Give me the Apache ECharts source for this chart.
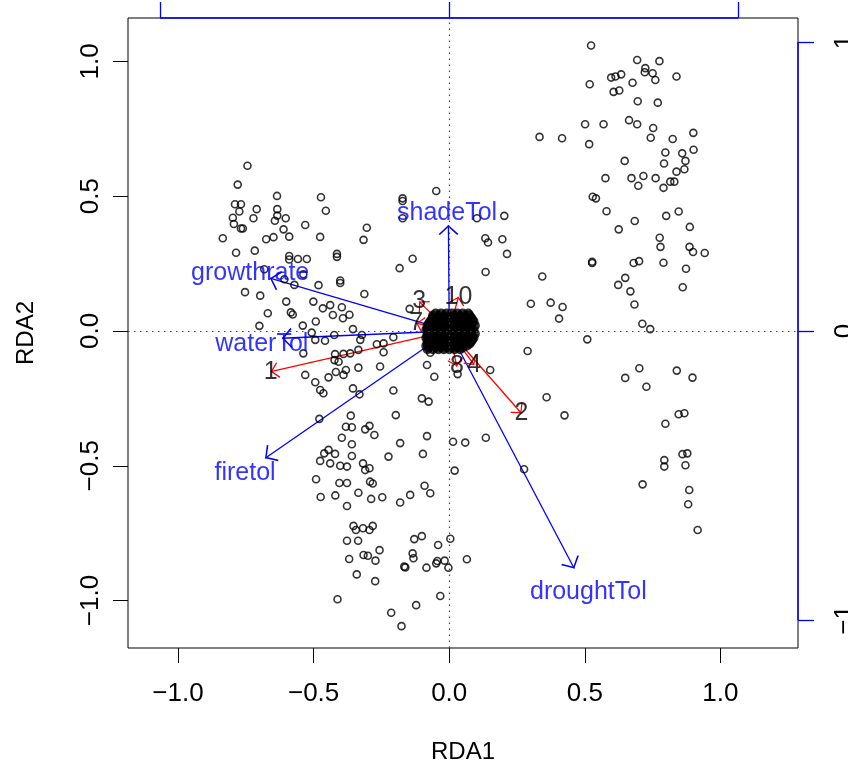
<!DOCTYPE html>
<html><head><meta charset="utf-8">
<script src="https://cdn.jsdelivr.net/npm/echarts@6/dist/echarts.min.js"></script>
<style>html,body{margin:0;padding:0;background:#fff}#c{width:848px;height:769px}</style>
</head><body><div id="c"></div><script>
// ---- axis ticks ----
const xTicks = [-1.0, -0.5, 0.0, 0.5, 1.0];
const yTicks = [-1.0, -0.5, 0.0, 0.5, 1.0];
const topTicks = [-1, 0, 1];
const rightTicks = [-1, 0, 1];

// ---- site scores (RDA1, RDA2) ----
const sites = [
[0.523,1.059],[0.693,1.005],[0.775,1.001],[0.723,0.975],[0.721,0.960],[0.750,0.956],[0.760,0.931],[0.597,0.940],
[0.613,0.944],[0.634,0.952],[0.518,0.915],[0.676,0.921],[0.838,0.944],[0.606,0.887],[0.627,0.892],[0.695,0.852],
[0.769,0.847],[0.501,0.767],[0.569,0.767],[0.663,0.782],[0.693,0.767],[0.752,0.753],[0.743,0.717],[0.824,0.712],
[0.900,0.735],[0.333,0.720],[0.416,0.715],[0.516,0.693],[0.647,0.631],[0.797,0.662],[0.859,0.659],[0.901,0.672],
[0.792,0.621],[0.871,0.631],[0.838,0.591],[0.867,0.600],[0.576,0.567],[0.672,0.567],[0.716,0.575],[0.697,0.539],
[0.761,0.567],[0.815,0.554],[0.830,0.554],[0.790,0.531],[0.529,0.498],[0.541,0.492],[0.580,0.444],[0.684,0.408],
[0.625,0.377],[0.800,0.427],[0.846,0.443],[0.887,0.386],[0.776,0.346],[0.779,0.312],[0.886,0.312],[0.899,0.293],
[0.942,0.289],[0.527,0.257],[0.527,0.252],[0.680,0.252],[0.700,0.259],[0.790,0.253],[0.873,0.231],[0.343,0.202],
[0.649,0.197],[0.623,0.171],[0.668,0.147],[0.861,0.162],[0.301,0.101],[0.374,0.105],[0.418,0.089],[0.405,0.046],
[0.683,0.098],[0.712,0.027],[0.741,0.007],[0.509,-0.031],[0.289,-0.074],[0.151,-0.145],[0.701,-0.138],[0.649,-0.174],
[0.727,-0.207],[0.839,-0.147],[0.897,-0.173],[0.359,-0.246],[0.425,-0.313],[0.846,-0.309],[0.867,-0.305],[0.797,-0.344],
[0.860,-0.457],[0.878,-0.454],[0.793,-0.479],[0.793,-0.503],[0.871,-0.498],[0.276,-0.513],[0.713,-0.569],[0.885,-0.590],
[0.881,-0.643],[0.916,-0.738],
[-0.048,0.519],[-0.172,0.492],[-0.172,0.482],[-0.172,0.418],[0.102,0.418],[0.203,0.427],[0.133,0.344],[0.143,0.328],
[0.196,0.340],[0.213,0.286],[-0.135,0.268],[-0.183,0.233],[0.134,0.219],[-0.146,0.082],[-0.206,-0.023],[-0.242,-0.046],
[-0.242,-0.079],[-0.070,-0.081],[-0.082,-0.126],[0.031,-0.160],[-0.255,-0.132],[-0.055,-0.170],
[-0.744,0.613],[-0.780,0.543],[-0.790,0.470],[-0.768,0.470],[-0.774,0.443],[-0.798,0.420],[-0.794,0.397],[-0.768,0.380],
[-0.761,0.380],[-0.722,0.418],[-0.710,0.452],[-0.635,0.501],[-0.634,0.452],[-0.634,0.428],[-0.643,0.409],[-0.603,0.418],
[-0.611,0.377],[-0.590,0.350],[-0.648,0.348],[-0.675,0.340],[-0.835,0.344],[-0.786,0.290],[-0.717,0.298],[-0.531,0.393],
[-0.473,0.496],[-0.455,0.446],[-0.476,0.349],[-0.304,0.383],[-0.316,0.338],[-0.590,0.278],[-0.590,0.265],[-0.558,0.267],
[-0.525,0.267],[-0.414,0.286],[-0.414,0.275],[-0.682,0.229],[-0.538,0.210],[-0.402,0.187],[-0.402,0.178],[-0.608,0.192],
[-0.571,0.171],[-0.482,0.170],[-0.313,0.137],[-0.753,0.144],[-0.697,0.131],[-0.601,0.109],[-0.669,0.066],[-0.584,0.069],
[-0.577,0.061],[-0.501,0.109],[-0.466,0.084],[-0.439,0.096],[-0.396,0.088],[-0.429,0.059],[-0.392,0.047],[-0.368,0.060],
[-0.492,0.035],[-0.540,0.020],[-0.700,0.019],[-0.355,0.007],[-0.507,-0.006],[-0.322,-0.015],[-0.267,-0.049],[-0.494,-0.033],
[-0.458,-0.036],[-0.424,-0.015],[-0.328,-0.033],
[-0.538,-0.083],[-0.421,-0.086],[-0.390,-0.085],[-0.365,-0.083],[-0.408,-0.114],[-0.423,-0.108],[-0.335,-0.070],[-0.445,-0.172],
[-0.418,-0.152],[-0.381,-0.145],[-0.390,-0.163],[-0.335,-0.136],[-0.531,-0.163],[-0.494,-0.190],[-0.476,-0.219],[-0.464,-0.231],
[-0.355,-0.213],[-0.331,-0.235],[-0.206,-0.221],[-0.197,-0.312],[-0.479,-0.326],[-0.363,-0.314],[-0.381,-0.355],[-0.359,-0.357],
[-0.294,-0.352],[-0.310,-0.365],[-0.276,-0.386],[-0.396,-0.396],[-0.359,-0.420],[-0.359,-0.464],[-0.461,-0.454],[-0.445,-0.441],
[-0.421,-0.456],[-0.476,-0.482],[-0.439,-0.491],[-0.402,-0.500],[-0.377,-0.503],[-0.224,-0.466],[-0.318,-0.491],[-0.310,-0.516],
[-0.294,-0.509],[-0.181,-0.416],[-0.491,-0.550],[-0.405,-0.564],[-0.377,-0.564],[-0.292,-0.559],[-0.282,-0.566],[-0.474,-0.616],
[-0.420,-0.610],[-0.335,-0.600],
[-0.377,-0.649],[-0.288,-0.623],[-0.247,-0.617],[-0.181,-0.636],[-0.144,-0.608],[-0.091,-0.574],[-0.070,-0.602],[0.020,-0.518],
[-0.353,-0.723],[-0.344,-0.738],[-0.318,-0.732],[-0.294,-0.738],[-0.282,-0.723],[-0.377,-0.778],[-0.336,-0.778],[-0.129,-0.772],
[-0.101,-0.761],[-0.041,-0.794],[0.004,-0.771],[-0.257,-0.813],[-0.369,-0.846],[-0.316,-0.831],[-0.300,-0.834],[-0.272,-0.852],
[-0.135,-0.825],[-0.132,-0.843],[-0.166,-0.874],[-0.162,-0.877],[-0.084,-0.878],[-0.048,-0.862],[-0.044,-0.853],[-0.017,-0.852],
[-0.003,-0.878],[0.065,-0.847],[-0.341,-0.903],[-0.273,-0.928],[-0.412,-0.995],[-0.214,-1.045],[-0.122,-1.017],[-0.033,-0.983],
[-0.176,-1.095],
[-0.101,-0.250],[-0.076,-0.262],[-0.082,-0.390],[0.014,-0.411],[0.059,-0.414],[0.135,-0.396],[-0.097,-0.456]
];

// ---- dense cloud of sites near the origin ----
const blob = [
[-0.05,0.065],[-0.03,0.065],[-0.01,0.065],[0.01,0.065],[0.03,0.065],[0.05,0.065],[0.07,0.065],
[-0.06,0.0575],[-0.04,0.0575],[-0.02,0.0575],[0.00,0.0575],[0.02,0.0575],[0.04,0.0575],[0.06,0.0575],[0.075,0.0575],
[-0.06,0.05],[-0.04,0.05],[-0.02,0.05],[0.00,0.05],[0.02,0.05],[0.04,0.05],[0.06,0.05],[0.08,0.05],
[-0.065,0.0425],[-0.05,0.0425],[-0.03,0.0425],[-0.01,0.0425],[0.01,0.0425],[0.03,0.0425],[0.05,0.0425],[0.07,0.0425],[0.085,0.0425],
[-0.07,0.035],[-0.05,0.035],[-0.03,0.035],[-0.01,0.035],[0.01,0.035],[0.03,0.035],[0.05,0.035],[0.07,0.035],[0.09,0.035],
[-0.075,0.0275],[-0.05,0.0275],[-0.03,0.0275],[-0.01,0.0275],[0.01,0.0275],[0.03,0.0275],[0.05,0.0275],[0.07,0.0275],[0.085,0.0275],
[-0.08,0.02],[-0.06,0.02],[-0.04,0.02],[-0.02,0.02],[0.00,0.02],[0.02,0.02],[0.04,0.02],[0.06,0.02],[0.08,0.02],[0.095,0.02],
[-0.08,0.0125],[-0.06,0.0125],[-0.04,0.0125],[-0.02,0.0125],[0.00,0.0125],[0.02,0.0125],[0.04,0.0125],[0.06,0.0125],[0.08,0.0125],
[-0.085,0.005],[-0.07,0.005],[-0.05,0.005],[-0.03,0.005],[-0.01,0.005],[0.01,0.005],[0.03,0.005],[0.05,0.005],[0.07,0.005],[0.09,0.005],
[-0.08,-0.0025],[-0.06,-0.0025],[-0.04,-0.0025],[-0.02,-0.0025],[0.00,-0.0025],[0.02,-0.0025],[0.04,-0.0025],[0.06,-0.0025],[0.08,-0.0025],
[-0.08,-0.01],[-0.06,-0.01],[-0.04,-0.01],[-0.02,-0.01],[0.00,-0.01],[0.02,-0.01],[0.04,-0.01],[0.06,-0.01],[0.08,-0.01],[0.095,-0.01],
[-0.08,-0.0175],[-0.05,-0.0175],[-0.03,-0.0175],[-0.01,-0.0175],[0.01,-0.0175],[0.03,-0.0175],[0.05,-0.0175],[0.07,-0.0175],[0.085,-0.0175],
[-0.085,-0.025],[-0.07,-0.025],[-0.05,-0.025],[-0.03,-0.025],[-0.01,-0.025],[0.01,-0.025],[0.03,-0.025],[0.05,-0.025],[0.07,-0.025],[0.09,-0.025],
[-0.08,-0.0325],[-0.05,-0.0325],[-0.03,-0.0325],[-0.01,-0.0325],[0.01,-0.0325],[0.03,-0.0325],[0.05,-0.0325],[0.07,-0.0325],[0.085,-0.0325],
[-0.08,-0.04],[-0.06,-0.04],[-0.04,-0.04],[-0.02,-0.04],[0.00,-0.04],[0.02,-0.04],[0.04,-0.04],[0.06,-0.04],[0.08,-0.04],
[-0.08,-0.0475],[-0.06,-0.0475],[-0.04,-0.0475],[-0.02,-0.0475],[0.00,-0.0475],[0.02,-0.0475],[0.04,-0.0475],[0.06,-0.0475],[0.075,-0.0475],
[-0.085,-0.055],[-0.07,-0.055],[-0.05,-0.055],[-0.03,-0.055],[-0.01,-0.055],[0.01,-0.055],[0.03,-0.055],[0.05,-0.055],[0.065,-0.055],
[-0.075,-0.0615],[-0.05,-0.0615],[-0.03,-0.0615],[-0.01,-0.0615],[0.01,-0.0615],[0.03,-0.0615],[0.05,-0.0615],
[-0.08,-0.068],[-0.06,-0.068],[-0.04,-0.068],[-0.02,-0.068],[0.00,-0.068],[0.02,-0.068],[0.04,-0.068]
];

// ---- biplot arrows (continuous traits) ----
const bipNames = ['shadeTol', 'growthrate', 'waterTol', 'firetol', 'droughtTol'];
const bipX = [-0.003, -0.661, -0.617, -0.679, 0.461];
const bipY = [0.393, 0.196, -0.027, -0.472, -0.881];
const bipLabelX = [-0.008, -0.734, -0.691, -0.753, 0.513];
const bipLabelY = [0.437, 0.216, -0.049, -0.528, -0.968];

// ---- factor level centroids ----
const cenNames = ['1', '2', '3', '4', '7', '8', '10', '5', '6', '9'];
const cenX = [-0.658, 0.266, -0.111, 0.092, -0.122, 0.028, 0.034, 0.020, -0.030, 0.050];
const cenY = [-0.151, -0.305, 0.109, -0.126, 0.029, -0.132, 0.127, 0.020, -0.020, -0.030];

// ---- plot ranges ----
const xMin = -1.1845, xMax = 1.286, yMin = -1.176, yMax = 1.161;
const topScale = 1.0664, rightScale = 1.072;

const FONT = 'Liberation Sans, Arial, Helvetica, sans-serif';
const BLUE = '#0000ff';
const fmt1 = v => (v < 0 ? '\u2212' : '') + Math.abs(v).toFixed(1);
const fmt0 = v => (v < 0 ? '\u2212' : '') + Math.abs(v);
const chevron = 'path://M0,-13.3M0,0L10,12L8.6,13.3L0,2.6L-8.6,13.3L-10,12Z';

const chart = echarts.init(document.getElementById('c'), null, {renderer: 'canvas'});
const circleStyle = {color: 'rgba(0,0,0,0)', borderColor: '#000', borderWidth: 1.6};
const blobStyle = {color: 'rgba(0,0,0,0)', borderColor: '#000', borderWidth: 2.8};

chart.setOption({
  animation: false,
  backgroundColor: '#fff',
  grid: {left: 128, right: 50, top: 18, bottom: 121, show: true, borderColor: '#000', borderWidth: 1,
         containLabel: false, outerBoundsMode: 'none'},
  xAxis: [
    {type: 'value', position: 'bottom', min: xMin, max: xMax,
     axisLine: {show: false, onZero: false}, splitLine: {show: false},
     axisTick: {show: true, length: 15, customValues: xTicks, lineStyle: {color: '#000', width: 1}},
     axisLabel: {show: true, customValues: xTicks, formatter: fmt1, margin: 33, fontSize: 26, color: '#000', fontFamily: FONT},
     name: 'RDA1', nameLocation: 'middle', nameGap: 92, nameTextStyle: {fontSize: 24, color: '#000', fontFamily: FONT}},
    {type: 'value', position: 'top', min: xMin / topScale, max: xMax / topScale,
     axisLine: {show: false, onZero: false}, splitLine: {show: false},
     axisTick: {show: true, length: 16, customValues: topTicks, lineStyle: {color: BLUE, width: 1.3}},
     axisLabel: {show: false}}
  ],
  yAxis: [
    {type: 'value', position: 'left', min: yMin, max: yMax,
     axisLine: {show: false, onZero: false}, splitLine: {show: false},
     axisTick: {show: true, length: 15, customValues: yTicks, lineStyle: {color: '#000', width: 1}},
     axisLabel: {show: true, customValues: yTicks, formatter: fmt1, rotate: 90, margin: 24, fontSize: 26, color: '#000', fontFamily: FONT},
     name: 'RDA2', nameLocation: 'middle', nameGap: 90, nameRotate: 90, nameTextStyle: {fontSize: 24, color: '#000', fontFamily: FONT}},
    {type: 'value', position: 'right', min: yMin / rightScale, max: yMax / rightScale,
     axisLine: {show: false, onZero: false}, splitLine: {show: false},
     axisTick: {show: true, length: 16, customValues: rightTicks, lineStyle: {color: BLUE, width: 1.3}},
     axisLabel: {show: true, customValues: rightTicks, formatter: fmt0, rotate: 90, margin: 34, fontSize: 26, color: '#000', fontFamily: FONT}}
  ],
  series: [
    {type: 'scatter', z: 1, data: [[0, 0]], symbolSize: 0, silent: true,
     markLine: {silent: true, symbol: 'none', label: {show: false},
       lineStyle: {type: [1.5, 4.5], color: '#444', width: 1.2},
       data: [{xAxis: 0}, {yAxis: 0}]}},
    {type: 'line', xAxisIndex: 1, yAxisIndex: 0, z: 6, clip: false, symbol: 'none', silent: true,
     data: [[topTicks[0], yMax], [topTicks[topTicks.length - 1], yMax]],
     lineStyle: {color: BLUE, width: 1.4}},
    {type: 'line', xAxisIndex: 0, yAxisIndex: 1, z: 6, clip: false, symbol: 'none', silent: true,
     data: [[xMax, rightTicks[0]], [xMax, rightTicks[rightTicks.length - 1]]],
     lineStyle: {color: BLUE, width: 1.4}},
    {type: 'lines', coordinateSystem: 'cartesian2d', z: 2, silent: true,
     symbol: ['none', chevron], symbolSize: [10, 20],
     lineStyle: {color: BLUE, width: 1.3, opacity: 1, curveness: 0},
     data: bipX.map((x, i) => ({coords: [[0, 0], [x, bipY[i]]]}))},
    {type: 'lines', coordinateSystem: 'cartesian2d', z: 2, silent: true,
     symbol: ['none', chevron], symbolSize: [8, 16],
     lineStyle: {color: '#ff0000', width: 1.3, opacity: 1, curveness: 0},
     data: cenX.map((x, i) => ({coords: [[0, 0], [x, cenY[i]]]}))},
    {type: 'scatter', z: 3, symbolSize: 0, silent: true,
     data: cenNames.map((n, i) => ({name: n, value: [cenX[i], cenY[i]]})),
     label: {show: true, position: 'inside', formatter: '{b}', color: '#000', fontSize: 25, fontFamily: FONT}},
    {type: 'scatter', z: 4, symbol: 'circle', symbolSize: 7, data: sites, itemStyle: circleStyle, silent: true},
    {type: 'scatter', z: 4, symbol: 'circle', symbolSize: 7, data: blob, itemStyle: blobStyle, silent: true},
    {type: 'scatter', z: 5, symbolSize: 0, silent: true,
     data: bipNames.map((n, i) => ({name: n, value: [bipLabelX[i], bipLabelY[i]]})),
     label: {show: true, position: 'inside', formatter: '{b}', color: BLUE, fontSize: 25, fontFamily: FONT}}
  ]
});
</script></body></html>
